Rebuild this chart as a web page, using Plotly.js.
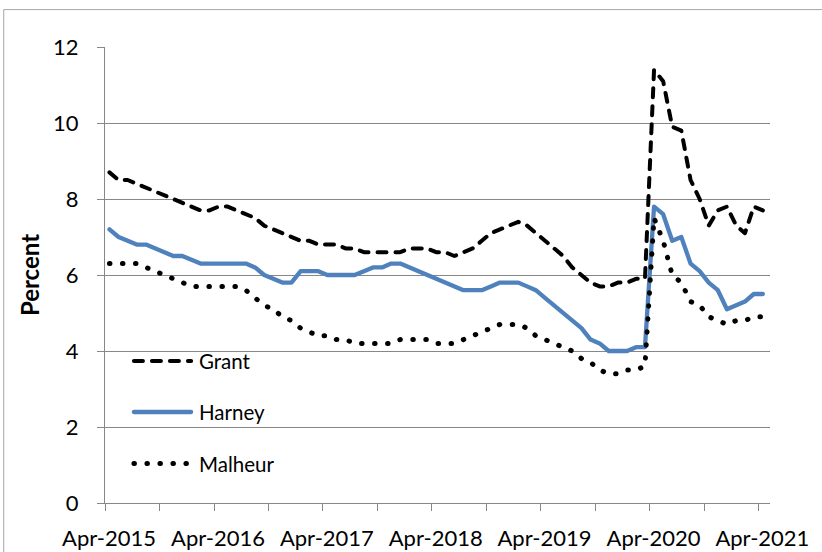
<!DOCTYPE html>
<html>
<head>
<meta charset="utf-8">
<script src="https://cdn.plot.ly/plotly-3.0.1.min.js"></script>
<style>
  html, body { margin: 0; padding: 0; background: #fff; }
  #chart { width: 822px; height: 552px; }
  .js-line, .shapelayer path { stroke-linecap: round !important; stroke-linejoin: round !important; }
</style>
</head>
<body>
<div id="chart"></div>
<script>
// Months: Apr-2015 .. Apr-2021
const months = [
  '2015-04','2015-05','2015-06','2015-07','2015-08','2015-09','2015-10','2015-11','2015-12',
  '2016-01','2016-02','2016-03','2016-04','2016-05','2016-06','2016-07','2016-08','2016-09','2016-10','2016-11','2016-12',
  '2017-01','2017-02','2017-03','2017-04','2017-05','2017-06','2017-07','2017-08','2017-09','2017-10','2017-11','2017-12',
  '2018-01','2018-02','2018-03','2018-04','2018-05','2018-06','2018-07','2018-08','2018-09','2018-10','2018-11','2018-12',
  '2019-01','2019-02','2019-03','2019-04','2019-05','2019-06','2019-07','2019-08','2019-09','2019-10','2019-11','2019-12',
  '2020-01','2020-02','2020-03','2020-04','2020-05','2020-06','2020-07','2020-08','2020-09','2020-10','2020-11','2020-12',
  '2021-01','2021-02','2021-03','2021-04'
];

const grant = [
  8.7, 8.5, 8.5, 8.4, 8.3, 8.2, 8.1, 8.0, 7.9, 7.8,
  7.7, 7.7, 7.8, 7.8, 7.7, 7.6, 7.5, 7.3, 7.2, 7.1,
  7.0, 6.9, 6.9, 6.8, 6.8, 6.8, 6.7, 6.7, 6.6, 6.6,
  6.6, 6.6, 6.6, 6.7, 6.7, 6.7, 6.6, 6.6, 6.5, 6.6,
  6.7, 6.9, 7.1, 7.2, 7.3, 7.4, 7.3, 7.1, 6.9, 6.7,
  6.5, 6.2, 6.0, 5.8, 5.7, 5.7, 5.8, 5.8, 5.9, 5.9,
  11.4, 11.1, 9.9, 9.8, 8.5, 8.0, 7.3, 7.7, 7.8, 7.3,
  7.1, 7.8, 7.7
];

const harney = [
  7.2, 7.0, 6.9, 6.8, 6.8, 6.7, 6.6, 6.5, 6.5, 6.4,
  6.3, 6.3, 6.3, 6.3, 6.3, 6.3, 6.2, 6.0, 5.9, 5.8,
  5.8, 6.1, 6.1, 6.1, 6.0, 6.0, 6.0, 6.0, 6.1, 6.2,
  6.2, 6.3, 6.3, 6.2, 6.1, 6.0, 5.9, 5.8, 5.7, 5.6,
  5.6, 5.6, 5.7, 5.8, 5.8, 5.8, 5.7, 5.6, 5.4, 5.2,
  5.0, 4.8, 4.6, 4.3, 4.2, 4.0, 4.0, 4.0, 4.1, 4.1,
  7.8, 7.6, 6.9, 7.0, 6.3, 6.1, 5.8, 5.6, 5.1, 5.2,
  5.3, 5.5, 5.5
];

const malheur = [
  6.3, 6.3, 6.3, 6.3, 6.2, 6.1, 6.0, 5.9, 5.8, 5.7,
  5.7, 5.7, 5.7, 5.7, 5.7, 5.6, 5.4, 5.2, 5.1, 4.9,
  4.8, 4.6, 4.5, 4.4, 4.4, 4.3, 4.3, 4.2, 4.2, 4.2,
  4.2, 4.2, 4.3, 4.3, 4.3, 4.3, 4.2, 4.2, 4.2, 4.3,
  4.4, 4.5, 4.6, 4.7, 4.7, 4.7, 4.6, 4.4, 4.3, 4.2,
  4.1, 4.0, 3.8, 3.7, 3.5, 3.4, 3.4, 3.5, 3.5, 3.6,
  7.5, 6.9, 6.0, 5.8, 5.3, 5.2, 4.9, 4.8, 4.7, 4.8,
  4.8, 4.9, 4.9
];

const seriesNames = ['Grant', 'Harney', 'Malheur'];
const yTickVals = [0, 2, 4, 6, 8, 10, 12];

const FONT = 'Lato, "Open Sans", sans-serif';
const GRID = '#878787';
const styles = [
  { color: '#000000', width: 4, dash: '9px,9px' },
  { color: '#4F81BD', width: 4.3, dash: 'solid' },
  { color: '#000000', width: 5, dash: '0.5px,12.5px' }
];
const seriesData = [grant, harney, malheur];

const traces = seriesData.map((vals, k) => ({
  type: 'scatter',
  mode: 'lines',
  name: seriesNames[k],
  x: months,
  y: vals,
  xperiod: 'M1',
  xperiodalignment: 'middle',
  line: { color: styles[k].color, width: styles[k].width, dash: styles[k].dash },
  showlegend: false,
  hoverinfo: 'skip'
}));

// Custom legend (line samples + labels) placed inside the plot, lower left
const legY = [0.3114, 0.1996, 0.0864];
const shapes = [
  // chart area border
  { type: 'rect', xref: 'paper', yref: 'paper', x0: -0.1517, x1: 1.3, y0: -0.3, y1: 1.082,
    line: { color: '#a6a6a6', width: 1 }, fillcolor: 'rgba(0,0,0,0)', layer: 'below' }
];
const annotations = [];
seriesNames.forEach((nm, k) => {
  shapes.push({ type: 'line', xref: 'paper', yref: 'paper', x0: 0.0435, x1: 0.1295, y0: legY[k], y1: legY[k],
    line: { color: styles[k].color, width: styles[k].width, dash: styles[k].dash } });
  annotations.push({ xref: 'paper', yref: 'paper', x: 0.1377, y: legY[k], xanchor: 'left', yanchor: 'middle',
    text: nm, showarrow: false, font: { family: FONT, size: 20.5, color: '#000' } });
});

const layout = {
  width: 822, height: 552,
  margin: { l: 105, r: 52, t: 47, b: 49 },
  paper_bgcolor: '#ffffff', plot_bgcolor: '#ffffff',
  font: { family: FONT, size: 22, color: '#000' },
  showlegend: false,
  xaxis: {
    type: 'date',
    range: ['2015-04-01', '2021-05-10'],
    tick0: '2015-04-01', dtick: 'M12', tickformat: '%b-%Y',
    ticks: 'outside', ticklen: 7, tickcolor: GRID, tickwidth: 1,
    minor: { dtick: 'M6', tick0: '2015-04-01', ticks: 'outside', ticklen: 7, tickcolor: GRID, tickwidth: 1, showgrid: false },
    showgrid: false, zeroline: false,
    showline: true, linecolor: GRID, linewidth: 1,
    tickfont: { family: FONT, size: 22, color: '#000' },
    ticklabelstandoff: 9,
    ticklabelshift: 4,
    fixedrange: true
  },
  yaxis: {
    range: [0, 12],
    tickvals: yTickVals,
    ticks: 'outside', ticklen: 7, tickcolor: GRID, tickwidth: 1,
    showgrid: true, gridcolor: GRID, gridwidth: 1,
    zeroline: false,
    showline: true, linecolor: GRID, linewidth: 1,
    tickfont: { family: FONT, size: 22, color: '#000' },
    ticklabelstandoff: 14,
    title: { text: '<b>Percent</b>', font: { family: FONT, size: 24, color: '#000' }, standoff: 6 },
    fixedrange: true
  },
  shapes: shapes,
  annotations: annotations
};

Plotly.newPlot('chart', traces, layout, { displayModeBar: false, staticPlot: true });
</script>
</body>
</html>
